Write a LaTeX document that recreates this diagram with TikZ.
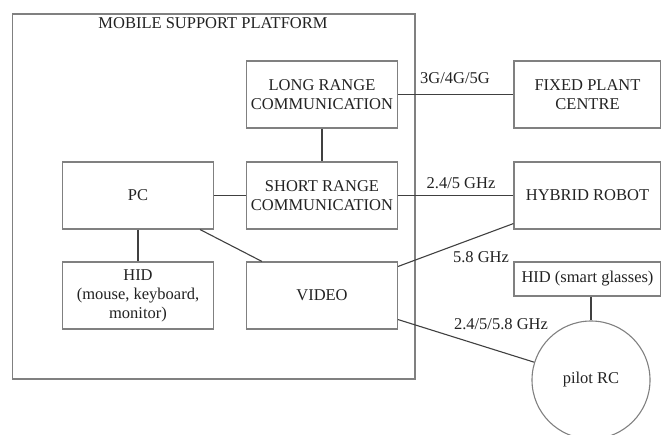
\documentclass[tikz,border=0pt]{standalone}
\usepackage{fontspec}
\setmainfont{Liberation Serif}
\usepackage{tikz}
\usetikzlibrary{positioning,calc}
\definecolor{frame}{HTML}{808080}
\definecolor{wire}{HTML}{404040}
\definecolor{ink}{HTML}{222222}
\tikzset{
  blk/.style={draw=frame,line width=1.1pt,rectangle,minimum width=151pt,minimum height=67pt,
              inner sep=0pt,align=center,text=ink},
  blk/.default=151pt,
  rc/.style={draw=frame,line width=1.1pt,circle,minimum size=118pt,inner sep=0pt,text=ink},
  link/.style={draw=wire,line width=1.1pt},
  band/.style={text=ink,inner sep=0pt},
}

\begin{document}
\begin{tikzpicture}[x=1pt,y=-1pt,font=\fontsize{16.5}{19}\selectfont]
  \useasboundingbox (0,0) rectangle (661,434);
  % platform frame
  \node[blk,minimum width=402.5pt,minimum height=365pt] (msp) at (213.75,196.5) {};
  \node[band] (msptitle) at (213,23) {MOBILE SUPPORT PLATFORM};
  % blocks inside the platform
  \node[blk] (long) at (322,94.5) {LONG RANGE\\COMMUNICATION};
  \node[blk] (short) at (322,195.5) {SHORT RANGE\\COMMUNICATION};
  \node[blk] (pc) at (138,195.5) {PC};
  \node[blk] (hid) at (138,295.5) {HID\\(mouse, keyboard,\\monitor)};
  \node[blk] (video) at (322,295.5) {VIDEO};
  % outside
  \node[blk,minimum width=147pt] (fixed) at (587.5,94.5) {FIXED PLANT\\CENTRE};
  \node[blk,minimum width=147pt] (robot) at (587.5,195.5) {HYBRID ROBOT};
  \node[blk,minimum width=147pt,minimum height=34pt] (glasses) at (587.5,279) {HID (smart glasses)};
  \node[rc] (pilot) at (591,380) {pilot RC};
  % connections
  \draw[link] (long.east) -- (fixed.west);
  \draw[link] (long.south) -- (short.north);
  \draw[link] (pc.east) -- (short.west);
  \draw[link] (short.east) -- (robot.west);
  \draw[link] (pc.south) -- (hid.north);
  \draw[link] ($(pc.south east)+(-14,0)$) -- ($(video.north west)+(16,0)$);
  \draw[link] ($(video.north east)+(0,5)$) -- ($(robot.south west)+(0,-6)$);
  \draw[link] ($(video.south east)+(0,-10)$) -- (pilot);
  \draw[link] (pilot.north |- glasses.south) -- (pilot.north);
  % band labels
  \node[band] (lte) at (455,78) {3G/4G/5G};
  \node[band] (wifi) at (461,183) {2.4/5 GHz};
  \node[band] (vid) at (481,257) {5.8 GHz};
  \node[band] (rcband) at (501,324) {2.4/5/5.8 GHz};
\end{tikzpicture}
\end{document}
